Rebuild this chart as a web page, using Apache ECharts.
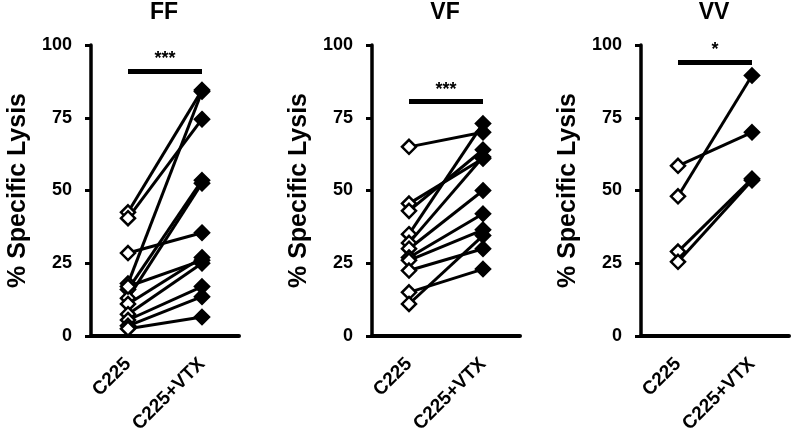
<!DOCTYPE html>
<html>
<head>
<meta charset="utf-8">
<script src="https://cdn.jsdelivr.net/npm/echarts@6/dist/echarts.min.js"></script>
<style>
  html, body { margin: 0; padding: 0; background: #fff; }
  #chart { width: 798px; height: 432px; }
</style>
</head>
<body>
<div id="chart"></div>
<script>
// categories and panel names
var categories = ['C225', 'C225+VTX'];
var panelNames = ['FF', 'VF', 'VV'];
var yTicks = [0, 25, 50, 75, 100];

// paired values (C225 -> C225+VTX)
var ffC225 = [42.5, 40.5, 28.5, 18, 16, 13, 17, 11, 7.5, 5.5, 3.5, 2.5];
var ffVtx  = [84.5, 74.5, 35.5, 84, 53.5, 52.5, 26, 27, 25, 17, 13.5, 6.5];
var vfC225 = [65, 45.5, 43, 35, 32, 30, 27, 26, 22.5, 15, 11];
var vfVtx  = [70, 61, 64, 73, 61.5, 50, 42, 36.5, 30, 23, 34.5];
var vvC225 = [58.5, 48, 29, 25.5];
var vvVtx  = [70, 89.5, 54, 53.5];

// significance bars
var sigLevel = [91, 80.5, 94];
var sigText = ['***', '***', '*'];

var font = 'Liberation Sans, Arial, sans-serif';
var chart = echarts.init(document.getElementById('chart'));

var gridLefts = [91, 372, 641];
var panels = [[ffC225, ffVtx], [vfC225, vfVtx], [vvC225, vvVtx]];

var grids = [], xAxes = [], yAxes = [], titles = [], series = [];

gridLefts.forEach(function (left, p) {
  grids.push({ left: left, top: 45, width: 148, height: 291, outerBoundsMode: 'none', containLabel: false });
  titles.push({
    text: panelNames[p],
    left: left + 73,
    top: 1,
    padding: 0,
    textAlign: 'center',
    textStyle: { fontFamily: font, fontWeight: 'bold', fontSize: 23, color: '#000' }
  });
  xAxes.push({
    type: 'category',
    gridIndex: p,
    data: categories,
    boundaryGap: true,
    axisLine: { lineStyle: { color: '#000', width: 4 } },
    axisTick: { show: false },
    axisLabel: {
      rotate: 45, margin: 25, color: '#000',
      fontFamily: font, fontWeight: 'bold', fontSize: 19
    }
  });
  yAxes.push({
    type: 'value',
    gridIndex: p,
    min: 0, max: 100, interval: 25,
    name: '% Specific Lysis',
    nameLocation: 'middle',
    nameGap: 60,
    nameTextStyle: { fontFamily: font, fontWeight: 'bold', fontSize: 25, color: '#000' },
    splitLine: { show: false },
    axisLine: { show: true, lineStyle: { color: '#000', width: 3.5 } },
    axisTick: { show: true, length: 6, lineStyle: { color: '#000', width: 3 } },
    axisLabel: {
      margin: 19, color: '#000',
      fontFamily: font, fontWeight: 'bold', fontSize: 18
    }
  });

  var c225 = panels[p][0], vtx = panels[p][1];
  c225.forEach(function (v, i) {
    series.push({
      type: 'line',
      xAxisIndex: p, yAxisIndex: p,
      symbol: 'diamond',
      symbolSize: 14,
      lineStyle: { color: '#000', width: 3 },
      itemStyle: { borderColor: '#000', borderWidth: 2.5 },
      data: [
        { value: v, itemStyle: { color: '#fff' } },
        { value: vtx[i], itemStyle: { color: '#000' } }
      ],
      z: 3
    });
  });

  // significance bar
  series.push({
    type: 'line',
    xAxisIndex: p, yAxisIndex: p,
    data: [],
    markLine: {
      silent: true,
      symbol: 'none',
      lineStyle: { color: '#000', width: 5, type: 'solid' },
      label: {
        show: true, position: 'middle', formatter: sigText[p], distance: 3,
        color: '#000', fontFamily: font, fontWeight: 'bold', fontSize: 18
      },
      data: [[{ coord: [categories[0], sigLevel[p]] }, { coord: [categories[1], sigLevel[p]] }]]
    }
  });
});

chart.setOption({
  animation: false,
  backgroundColor: '#fff',
  title: titles,
  grid: grids,
  xAxis: xAxes,
  yAxis: yAxes,
  series: series
});
</script>
</body>
</html>
